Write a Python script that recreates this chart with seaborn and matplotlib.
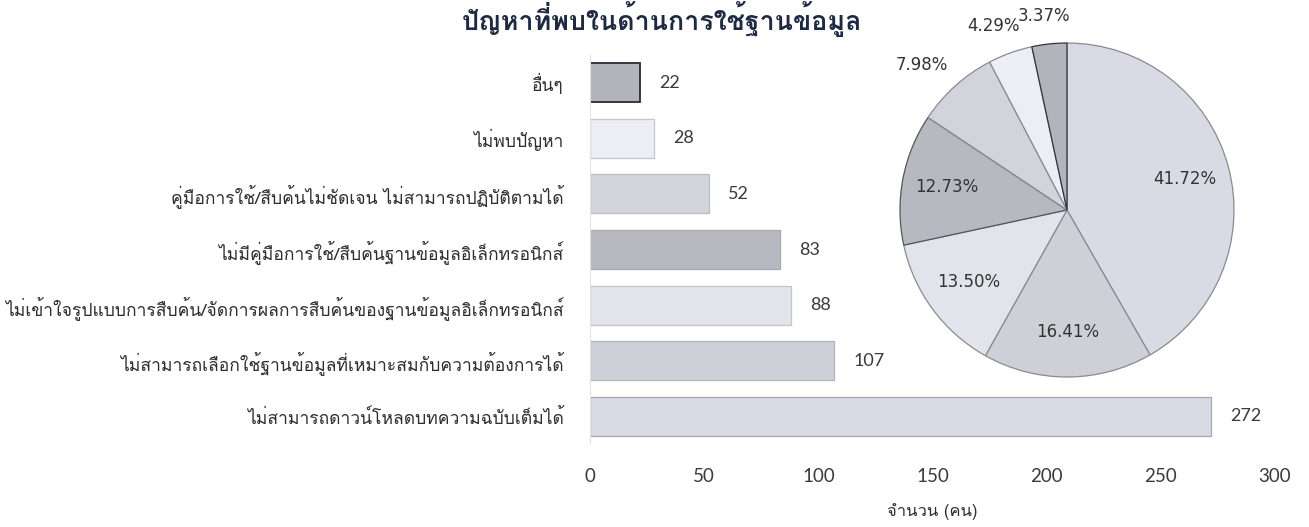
import matplotlib
matplotlib.use("Agg")
import matplotlib.pyplot as plt
import seaborn as sns
import numpy as np
import pandas as pd

# ---------------- data ----------------
title = "ปัญหาที่พบในด้านการใช้ฐานข้อมูล"
categories = [
    "อื่นๆ",
    "ไม่พบปัญหา",
    "คู่มือการใช้/สืบค้นไม่ชัดเจน ไม่สามารถปฏิบัติตามได้",
    "ไม่มีคู่มือการใช้/สืบค้นฐานข้อมูลอิเล็กทรอนิกส์",
    "ไม่เข้าใจรูปแบบการสืบค้น/จัดการผลการสืบค้นของฐานข้อมูลอิเล็กทรอนิกส์",
    "ไม่สามารถเลือกใช้ฐานข้อมูลที่เหมาะสมกับความต้องการได้",
    "ไม่สามารถดาวน์โหลดบทความฉบับเต็มได้",
]
counts = [22, 28, 52, 83, 88, 107, 272]
x_ticks = [0, 50, 100, 150, 200, 250, 300]
x_label = "จำนวน (คน)"
colors = ["#b3b3bb", "#ededf5", "#d3d3db", "#b8b8c0", "#e3e3eb", "#cfcfd7", "#dadae4"]
edge_colors = ["#2a2a38", "#c4c4cc", "#bdbdc5", "#a8a8b0", "#c4c4cc", "#b4b4bc", "#a8a8b0"]

# ---------------- style ----------------
sns.set_theme(style="white")
thai_font = "Loma"
num_font = "Lato"
plt.rcParams["font.family"] = [thai_font, "DejaVu Sans"]

fig = plt.figure(figsize=(13.09, 5.27), dpi=100)

# ---------------- bar chart ----------------
ax = fig.add_axes([590 / 1309, 1 - 444 / 527, 685 / 1309, 389 / 527])
df = pd.DataFrame({"cat": categories, "n": counts})
sns.barplot(data=df, x="n", y="cat", hue="cat", palette=colors, legend=False,
            orient="h", width=0.7, ax=ax, saturation=1)
for p, ec in zip(ax.patches, edge_colors):
    p.set_edgecolor(ec)
    p.set_linewidth(1.3 if ec == "#2a2a38" else 0.9)
for c in ax.containers:
    ax.bar_label(c, padding=14, fontsize=13, color="#3a3a3a", fontfamily=num_font)

ax.set_xlim(0, 300)
ax.set_xticks(x_ticks)
ax.set_xticklabels([str(t) for t in x_ticks], fontfamily=num_font, fontsize=13.5, color="#3a3a3a")
ax.tick_params(axis="x", length=0, pad=17)
ax.tick_params(axis="y", length=0, pad=19, labelsize=12.6, labelcolor="#2e2e2e")
ax.set_ylabel("")
ax.set_xlabel(x_label, fontsize=12, color="#2e2e2e", labelpad=13)
for s in ["top", "right", "bottom"]:
    ax.spines[s].set_visible(False)
ax.spines["left"].set_color("#e2e2e2")
ax.spines["left"].set_linewidth(0.8)

# ---------------- pie ----------------
R = 167
size = 2.5 * R
cx, cy = 1067, 210
pax = fig.add_axes([(cx - size / 2) / 1309, 1 - (cy + size / 2) / 527, size / 1309, size / 527])
pie_vals = counts[::-1]
pie_cols = colors[::-1]
pie_edges = ["#8a8a92", "#8a8a92", "#8a8a92", "#55555f", "#8a8a92", "#8a8a92", "#33333d"]
wedges, texts, autotexts = pax.pie(
    pie_vals, colors=pie_cols, startangle=90, counterclock=False,
    autopct="%.2f%%", pctdistance=0.73,
    wedgeprops=dict(linewidth=0.9),
    textprops=dict(fontfamily="DejaVu Sans", fontsize=12, color="#333333"),
)
for w, ec in zip(wedges, pie_edges):
    w.set_edgecolor(ec)
total = sum(pie_vals)
for w, t, v in zip(wedges, autotexts, pie_vals):
    if v / total < 0.10:
        ang = np.deg2rad((w.theta1 + w.theta2) / 2)
        t.set_position((1.3 * np.cos(ang), 1.17 * np.sin(ang)))
pax.set_xlim(-1.25, 1.25)
pax.set_ylim(-1.25, 1.25)
pax.set_aspect("equal")
pax.axis("off")

# ---------------- title ----------------
fig.text(662 / 1309, 1 - 1 / 527, title, ha="center", va="top",
         fontsize=19.3, fontweight="bold", color="#1e2a44")

fig.savefig("out.png", dpi=100)
